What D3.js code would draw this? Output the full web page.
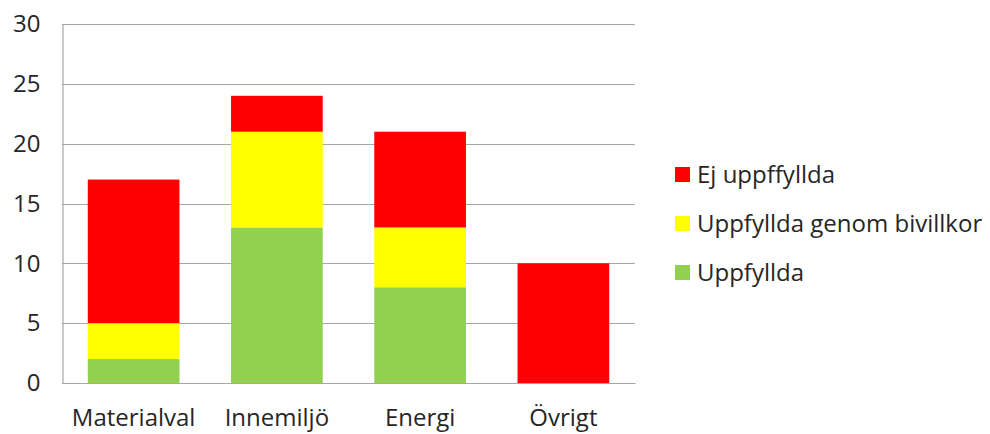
<!DOCTYPE html>
<html>
<head>
<meta charset="utf-8">
<script src="https://cdn.jsdelivr.net/npm/d3@7"></script>
<style>
  html, body { margin: 0; padding: 0; background: #fff; }
  svg text { font-family: "Open Sans", "Noto Sans", sans-serif; fill: #262626; }
</style>
</head>
<body>
<svg id="chart" width="990" height="434"></svg>
<script>
// Categories and stacked series values
const categories = ["Materialval", "Innemiljö", "Energi", "Övrigt"];
const uppfyllda = [2, 13, 8, 0];
const bivillkor = [3, 8, 5, 0];
const ejUppfyllda = [12, 3, 8, 10];
const yTicks = [0, 5, 10, 15, 20, 25, 30];

const seriesNames = ["Uppfyllda", "Uppfyllda genom bivillkor", "Ej uppffyllda"];
const seriesColors = ["#92D050", "#FFFF00", "#FF0000"];
const legendOrder = ["Ej uppffyllda", "Uppfyllda genom bivillkor", "Uppfyllda"];

const rows = categories.map((c, i) => ({
  cat: c,
  "Uppfyllda": uppfyllda[i],
  "Uppfyllda genom bivillkor": bivillkor[i],
  "Ej uppffyllda": ejUppfyllda[i]
}));

const svg = d3.select("#chart");
const margin = { left: 62, top: 24, right: 355, bottom: 51 };
const W = 990, H = 434;
const fontSize = 24;

const x = d3.scaleBand().domain(categories)
  .range([margin.left, W - margin.right]).paddingInner(0.36).paddingOuter(0.18);
const y = d3.scaleLinear().domain([0, 30]).range([H - margin.bottom, margin.top]);

// Horizontal gridlines
svg.append("g").selectAll("line").data(yTicks).join("line")
  .attr("x1", margin.left).attr("x2", W - margin.right)
  .attr("y1", d => Math.round(y(d)) + 0.5).attr("y2", d => Math.round(y(d)) + 0.5)
  .attr("stroke", "#A6A6A6").attr("stroke-width", 1.2);

// Stacked bars
const stack = d3.stack().keys(seriesNames);
const layers = stack(rows);
const color = d3.scaleOrdinal().domain(seriesNames).range(seriesColors);

svg.append("g").selectAll("g").data(layers).join("g")
  .attr("fill", d => color(d.key))
  .selectAll("rect").data(d => d).join("rect")
  .attr("x", d => x(d.data.cat))
  .attr("width", x.bandwidth())
  .attr("y", d => y(d[1]))
  .attr("height", d => y(d[0]) - y(d[1]));

// Y axis
const yAxis = svg.append("g")
  .attr("transform", `translate(${margin.left + 0.5},0)`)
  .call(d3.axisLeft(y).tickValues(yTicks).tickSize(0).tickPadding(22));
yAxis.select(".domain").attr("stroke", "#A6A6A6").attr("stroke-width", 1.2);
yAxis.selectAll("text").attr("font-size", fontSize).attr("text-anchor", "end")
  .attr("fill", "#262626").style("font-family", "'Open Sans', 'Noto Sans', sans-serif");

// X axis
const xAxis = svg.append("g")
  .attr("transform", `translate(0,${H - margin.bottom})`)
  .call(d3.axisBottom(x).tickSize(0).tickPadding(26));
xAxis.select(".domain").attr("stroke", "#A6A6A6").attr("stroke-width", 1.2);
xAxis.selectAll("text").attr("font-size", fontSize)
  .attr("fill", "#262626").style("font-family", "'Open Sans', 'Noto Sans', sans-serif");

// Legend
const legend = svg.append("g").attr("transform", "translate(675,0)");
const legendY = d3.scalePoint().domain(legendOrder).range([174.5, 272.5]);
const item = legend.selectAll("g").data(legendOrder).join("g")
  .attr("transform", d => `translate(0,${legendY(d)})`);
item.append("rect").attr("x", 0).attr("y", -7.5).attr("width", 15).attr("height", 15)
  .attr("fill", d => color(d));
item.append("text").attr("x", 22).attr("dy", "0.36em").attr("font-size", fontSize).text(d => d);
</script>
</body>
</html>
